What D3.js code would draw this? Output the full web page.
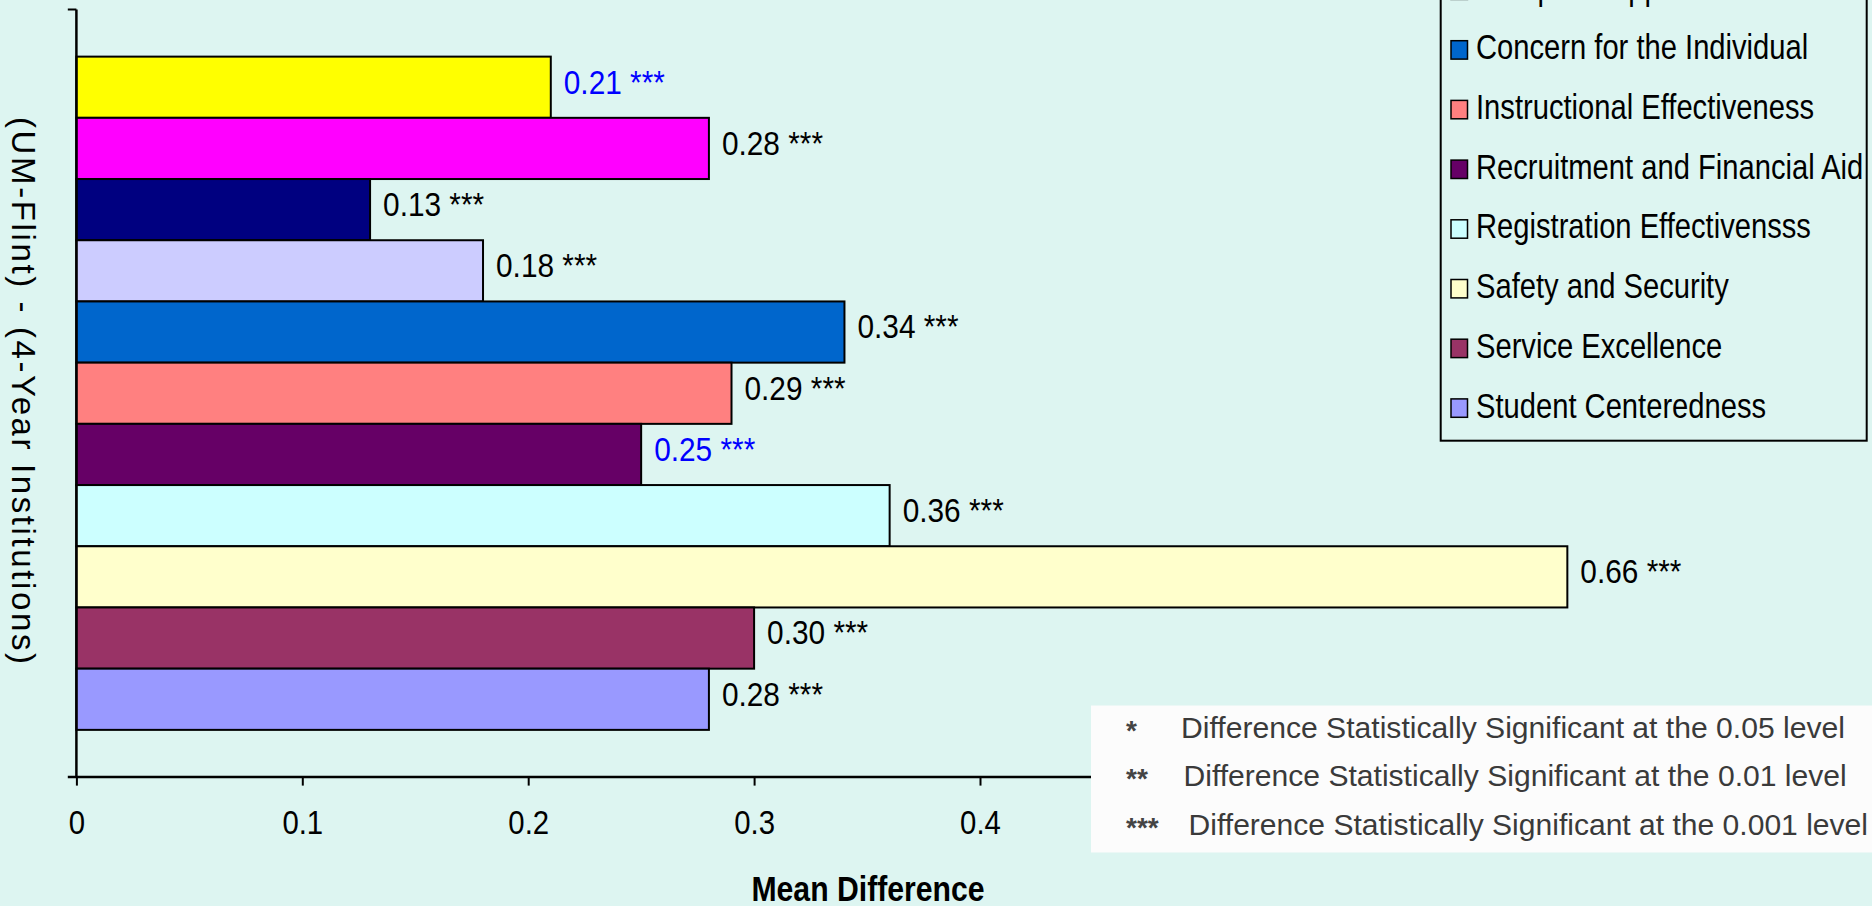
<!DOCTYPE html>
<html><head><meta charset="utf-8">
<script src="https://cdn.jsdelivr.net/npm/d3@7"></script>
<style>html,body{margin:0;padding:0;background:#DDF5F1;overflow:hidden}</style>
</head><body>
<svg id="c" width="1872" height="906"></svg>
<script>
// ---- data ----
const categories = ["(UM-Flint) - (4-Year Institutions)"];
const seriesNames = [
  "Academic Advising Effectiveness",
  "Campus Climate",
  "Campus Life",
  "Campus Support Services",
  "Concern for the Individual",
  "Instructional Effectiveness",
  "Recruitment and Financial Aid",
  "Registration Effectivensss",
  "Safety and Security",
  "Service Excellence",
  "Student Centeredness"
];
const values = [0.21, 0.28, 0.13, 0.18, 0.34, 0.29, 0.25, 0.36, 0.66, 0.30, 0.28];
const valueLabels = ["0.21", "0.28", "0.13", "0.18", "0.34", "0.29", "0.25", "0.36", "0.66", "0.30", "0.28"];
const significance = ["***", "***", "***", "***", "***", "***", "***", "***", "***", "***", "***"];
const seriesColors = ["#FFFF00", "#FF00FF", "#000080", "#CCCCFF", "#0066CC", "#FF8080", "#660066", "#CCFFFF", "#FFFFCC", "#993366", "#9999FF"];
const labelColors = ["#0000FF", "#000000", "#000000", "#000000", "#000000", "#000000", "#0000FF", "#000000", "#000000", "#000000", "#000000"];
const xDomain = [0, 0.7];
const xTickValues = [0, 0.1, 0.2, 0.3, 0.4];
const xTickLabels = ["0", "0.1", "0.2", "0.3", "0.4"];
const xTitle = "Mean Difference";
const yTitle = "(UM-Flint) - (4-Year Institutions)";
const noteMarks = ["*", "**", "***"];
const noteTexts = [
  "Difference Statistically Significant at the 0.05 level",
  "Difference Statistically Significant at the 0.01  level",
  "Difference Statistically Significant at the 0.001 level"
];

// ---- layout ----
const FONT = "'Liberation Sans',Arial,Helvetica,sans-serif";
const svg = d3.select("#c");
const plot = {left: 76.4, right: 1657.7, top: 9.5, bottom: 777};

const x = d3.scaleLinear().domain(xDomain).range([plot.left, plot.right]);
const y0 = d3.scaleBand().domain(categories).range([plot.top, plot.bottom]).paddingInner(0).paddingOuter(0.07);
const y1 = d3.scaleBand().domain(seriesNames).range([0, y0.bandwidth()]).padding(0);

const data = seriesNames.map((s, i) => ({s, v: values[i], lab: valueLabels[i], sig: significance[i], c: seriesColors[i], lc: labelColors[i]}));

// bars
const g = svg.append("g");
g.selectAll("rect.bar").data(data).join("rect")
  .attr("class", "bar")
  .attr("x", x(0))
  .attr("y", d => y0(categories[0]) + y1(d.s))
  .attr("width", d => x(d.v) - x(0))
  .attr("height", y1.bandwidth())
  .attr("fill", d => d.c)
  .attr("stroke", "#000").attr("stroke-width", 2);

// value labels (condensed face emulated with a horizontal scale)
g.selectAll("text.vl").data(data).join("text")
  .attr("class", "vl")
  .attr("transform", d => `translate(${x(d.v) + 13},${y0(categories[0]) + y1(d.s) + y1.bandwidth() / 2 + 6.3}) scale(0.89,1)`)
  .attr("font-family", FONT).attr("font-size", 33.5)
  .attr("fill", d => d.lc)
  .text(d => d.lab + " " + d.sig);

// x axis
const xAxis = d3.axisBottom(x).tickValues(xTickValues).tickFormat((d, i) => xTickLabels[i])
  .tickSizeInner(8.6).tickSizeOuter(0).tickPadding(25);
const xa = svg.append("g").attr("transform", `translate(0,${plot.bottom})`).call(xAxis);
xa.select(".domain").attr("stroke", "#000").attr("stroke-width", 2.5).attr("d", `M${plot.left - 8.6},0H${plot.right}`);
xa.selectAll(".tick line").attr("stroke", "#000").attr("stroke-width", 2);
xa.selectAll(".tick text").attr("font-family", FONT).attr("font-size", 32.6).attr("fill", "#000")
  .attr("transform", "scale(0.9,1)");

// y axis (category axis: line + boundary tick)
const ya = svg.append("g");
ya.append("line").attr("x1", plot.left).attr("x2", plot.left).attr("y1", plot.top).attr("y2", plot.bottom)
  .attr("stroke", "#000").attr("stroke-width", 2.5);
ya.selectAll("line.t").data([y0.range()[0]]).join("line").attr("class", "t")
  .attr("x1", plot.left - 8.6).attr("x2", plot.left).attr("y1", d => d).attr("y2", d => d)
  .attr("stroke", "#000").attr("stroke-width", 2);

// titles
svg.append("text").attr("transform", "translate(868,900.7) scale(0.875,1)").attr("text-anchor", "middle")
  .attr("font-family", FONT).attr("font-weight", "bold").attr("font-size", 34.5).text(xTitle);
svg.append("text").attr("transform", "translate(12,390.5) rotate(90)").attr("text-anchor", "middle")
  .attr("font-family", FONT).attr("font-size", 33)
  .attr("textLength", 547).attr("lengthAdjust", "spacing").text(yTitle);

// legend
const leg = {left: 1440.7, right: 1866.7, bottom: 440.7, top: -30};
svg.append("rect").attr("x", leg.left).attr("y", leg.top).attr("width", leg.right - leg.left)
  .attr("height", leg.bottom - leg.top).attr("fill", "none").attr("stroke", "#000").attr("stroke-width", 2);
const rowY = i => 50 + 59.7 * (i - 4);
const legItems = data.map((d, i) => ({...d, cy: rowY(i)})).filter(d => d.cy > -25);
const li = svg.append("g").selectAll("g").data(legItems).join("g");
li.append("rect").attr("x", 1451).attr("y", d => d.cy - 9.3).attr("width", 16.5).attr("height", 18.4)
  .attr("fill", d => d.c).attr("stroke", "#000").attr("stroke-width", 1.5);
li.append("text").attr("transform", d => `translate(1476,${d.cy + 9.3}) scale(0.81,1)`)
  .attr("font-family", FONT).attr("font-size", 36).attr("fill", "#000").text(d => d.s);

// significance note box
const nb = svg.append("g");
nb.append("rect").attr("x", 1091).attr("y", 705.5).attr("width", 781).attr("height", 147).attr("fill", "#FCFCFC");
const noteBase = [738, 786, 834.5];
const noteStart = [1181, 1183.5, 1188.6];
const noteEnd = [1845, 1846.7, 1868];
nb.selectAll("text.m").data(noteMarks).join("text").attr("class", "m")
  .attr("x", 1126).attr("y", (d, i) => noteBase[i] + 2)
  .attr("font-family", FONT).attr("font-size", 28).attr("font-weight", "bold").attr("fill", "#444").text(d => d);
nb.selectAll("text.n").data(noteTexts).join("text").attr("class", "n")
  .attr("x", (d, i) => noteStart[i]).attr("y", (d, i) => noteBase[i])
  .attr("textLength", (d, i) => noteEnd[i] - noteStart[i]).attr("lengthAdjust", "spacingAndGlyphs")
  .attr("font-family", FONT).attr("font-size", 29).attr("fill", "#3a3a3a").text(d => d);
</script>
</body></html>
